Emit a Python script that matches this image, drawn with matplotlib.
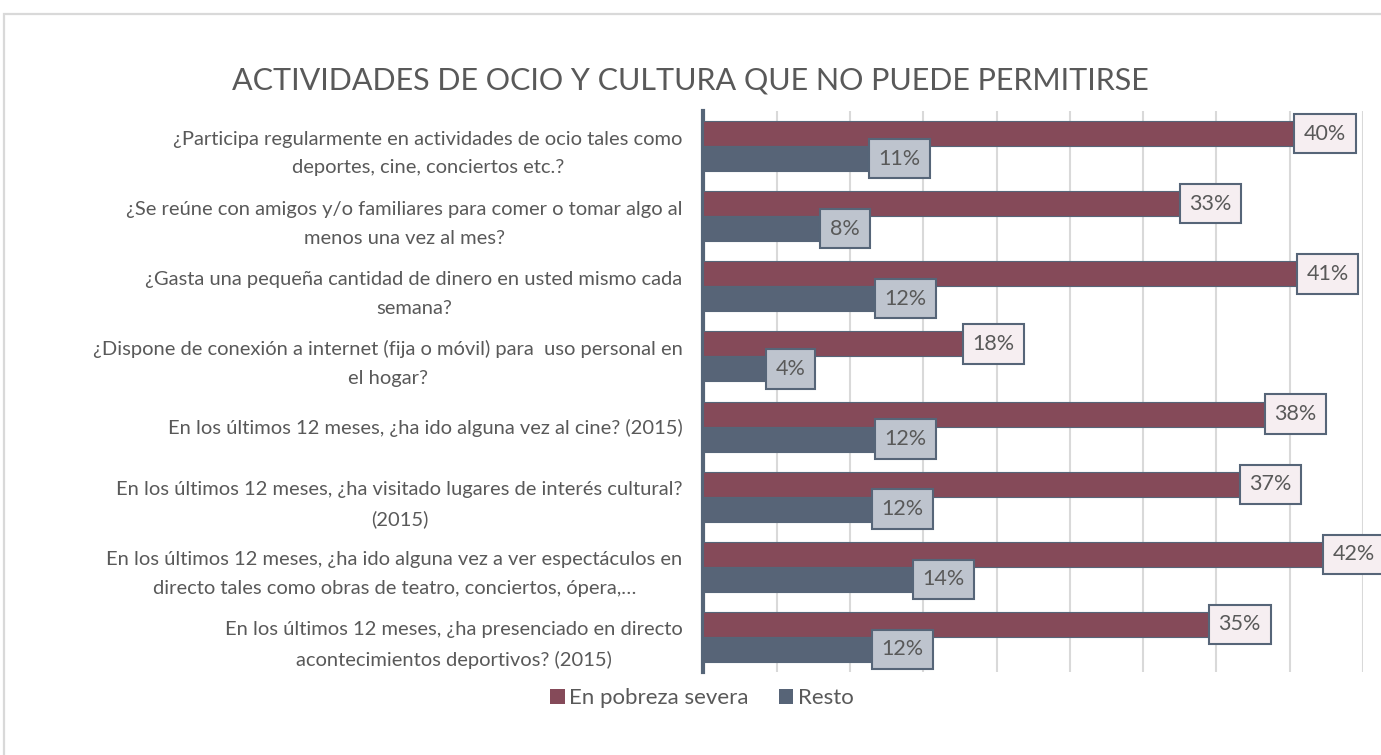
import numpy as np
import matplotlib.pyplot as plt
from matplotlib.patches import Rectangle, Patch

plt.rcParams['font.family'] = ['Lato', 'DejaVu Sans']

# categories (top to bottom) and values in %
preguntas = [
    "¿Participa regularmente en actividades de ocio tales como\ndeportes, cine, conciertos etc.?",
    "¿Se reúne con amigos y/o familiares para comer o tomar algo al\nmenos una vez al mes?",
    "¿Gasta una pequeña cantidad de dinero en usted mismo cada\nsemana?",
    "¿Dispone de conexión a internet (fija o móvil) para  uso personal en\nel hogar?",
    "En los últimos 12 meses, ¿ha ido alguna vez al cine? (2015)",
    "En los últimos 12 meses, ¿ha visitado lugares de interés cultural?\n(2015)",
    "En los últimos 12 meses, ¿ha ido alguna vez a ver espectáculos en\ndirecto tales como obras de teatro, conciertos, ópera,…",
    "En los últimos 12 meses, ¿ha presenciado en directo\nacontecimientos deportivos? (2015)",
]
severa = [40.4, 32.6, 40.6, 17.8, 38.4, 36.7, 42.4, 34.6]
resto = [11.4, 8.1, 11.8, 4.4, 11.8, 11.6, 14.4, 11.6]
series = ["En pobreza severa", "Resto"]

c_sev = '#854A59'
c_res = '#576477'
c_edge = '#566578'
txt = '#595959'

fig = plt.figure(figsize=(13.81, 7.55), dpi=100)
# light grey chart frame
fig.patches.append(Rectangle((4/1381, -0.05), 1.1, 1 - 14/755 + 0.05, transform=fig.transFigure,
                             fill=False, edgecolor='#D9D9D9', lw=1.6))

ax = fig.add_axes([703.4/1381, 1 - 672/755, (1363 - 703.4)/1381, (672 - 111)/755])

y = np.arange(len(preguntas))
h = 0.356
b1 = ax.barh(y - h/2, severa, h, color=c_sev, edgecolor=c_edge, lw=0.8, zorder=3, label=series[0])
b2 = ax.barh(y + h/2, resto, h, color=c_res, edgecolor=c_edge, lw=0.8, zorder=3, label=series[1])

for bars, vals, face in [(b1, severa, '#F6EEF1'), (b2, resto, '#BEC4CE')]:
    for rect, v in zip(bars, vals):
        ax.annotate("%d%%" % round(v), (rect.get_width(), rect.get_y() + rect.get_height()/2),
                    xytext=(8, 0), textcoords='offset pixels', ha='left', va='center',
                    fontsize=15.5, color=txt, zorder=5, annotation_clip=False,
                    bbox=dict(boxstyle='square,pad=0.45', fc=face, ec=c_edge, lw=1.5))

ax.set_xlim(0, 45)
ax.set_ylim(len(preguntas) - 0.5, -0.5)
ax.set_xticks(np.arange(5, 50, 5))
ax.set_xticklabels([])
ax.grid(axis='x', color='#D9D9D9', lw=1.5, zorder=0)
ax.tick_params(length=0)
ax.set_yticks(y)
ax.set_yticklabels(preguntas, fontsize=14.5, color=txt, multialignment='center', linespacing=1.85)
ax.tick_params(axis='y', pad=15)
for s in ['top', 'right', 'bottom']:
    ax.spines[s].set_visible(False)
ax.spines['left'].set_color(c_edge)
ax.spines['left'].set_linewidth(3)
ax.set_axisbelow(True)

fig.text(0.5, 1 - 80/755, "ACTIVIDADES DE OCIO Y CULTURA QUE NO PUEDE PERMITIRSE",
         ha='center', va='center', fontsize=22, color=txt)

handles = [Patch(facecolor=c_sev, edgecolor='none'), Patch(facecolor=c_res, edgecolor='none')]
fig.legend(handles, series, loc='center', bbox_to_anchor=(702/1381, 1 - 698/755), ncol=2,
           frameon=False, fontsize=16, labelcolor=txt, handlelength=0.65, handleheight=0.65,
           handletextpad=0.2, columnspacing=1.35)

fig.savefig('out.png', dpi=100)
